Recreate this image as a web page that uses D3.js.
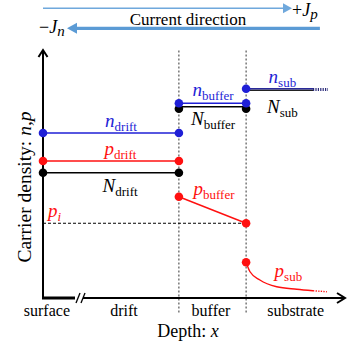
<!DOCTYPE html>
<html>
<head>
<meta charset="utf-8">
<script src="https://cdn.jsdelivr.net/npm/d3@7"></script>
<style>
  body { margin: 0; background: #fff; }
  svg text { font-family: "Liberation Serif", "Times New Roman", serif; }
</style>
</head>
<body>
<div id="chart"></div>
<script>
// regions along the depth axis
const regions = ["surface", "drift", "buffer", "substrate"];
const regionCenters = [0.13, 2.7, 5.6, 8.42];
// layer boundaries (depth units)
const boundaries = [4.53, 6.77];

// flat levels (arbitrary log units)
const nDrift = 6.6, pDrift = 5.48, NDrift = 5.01;
const nBuffer = 7.79, NBuffer = 7.65;
const nSub = 8.37, NSub = 8.31;
const pIntrinsic = 2.99;
const subEnd = 9.0, subFade = 9.5;

// p in buffer and substrate
const pBuffer = [[4.53, 4.05], [6.77, 2.99]];
const pSub = [[6.77, 1.43], [6.9, 1.05], [7.23, 0.72], [7.79, 0.45], [8.46, 0.35], [9.0, 0.29]];
const pSubFade = [[9.0, 0.29], [9.46, 0.25]];

const BLUE = "#1f1fd6", RED = "#ff1010", BLACK = "#000";

const dimensions = { width: 360, height: 345 };

const svg = d3.select("#chart").append("svg")
  .attr("width", dimensions.width)
  .attr("height", dimensions.height);

const x = d3.scaleLinear().domain([0, 10]).range([43, 343]);
const y = d3.scaleLinear().domain([0, 10]).range([298, 48]);

const line = d3.line().x(d => x(d[0])).y(d => y(d[1]));
const curve = d3.line().x(d => x(d[0])).y(d => y(d[1])).curve(d3.curveMonotoneX);

// ---- current direction arrows
const header = svg.append("g");
function arrow(x1, x2, yy, w, head, color) {
  const dir = Math.sign(x2 - x1);
  header.append("line")
    .attr("x1", x1).attr("x2", x2 - dir * head).attr("y1", yy).attr("y2", yy)
    .attr("stroke", color).attr("stroke-width", w);
  header.append("path")
    .attr("d", `M${x2},${yy} L${x2 - dir * head},${yy - head * 0.55} L${x2 - dir * head},${yy + head * 0.55}Z`)
    .attr("fill", color);
}
arrow(x(0), x(8.3), 8.3, 1.6, 9, "#6fa8dc");
arrow(x(9.23), x(0.8), 28.3, 3.2, 10, "#5b9bd5");

header.append("text").attr("x", 188).attr("y", 25).attr("text-anchor", "middle")
  .attr("font-size", 17).text("Current direction");

function label(g, px, py, main, sub, color, anchor, subItalic) {
  const t = g.append("text").attr("x", px).attr("y", py)
    .attr("text-anchor", anchor || "middle").attr("fill", color);
  t.append("tspan").attr("font-style", "italic").attr("font-size", 19).text(main);
  if (sub) t.append("tspan").attr("font-size", 13).attr("dy", 4)
    .attr("font-style", subItalic ? "italic" : "normal").text(sub);
  return t;
}
const tp = header.append("text").attr("x", 292).attr("y", 16).attr("font-size", 18);
tp.append("tspan").text("+");
tp.append("tspan").attr("font-style", "italic").text("J");
tp.append("tspan").attr("font-style", "italic").attr("font-size", 15).attr("dy", 3).text("p");
const tn = header.append("text").attr("x", 39).attr("y", 33).attr("font-size", 18);
tn.append("tspan").text("\u2212");
tn.append("tspan").attr("font-style", "italic").text("J");
tn.append("tspan").attr("font-style", "italic").attr("font-size", 15).attr("dy", 3).text("n");

// ---- boundaries
const bounds = svg.append("g");
bounds.selectAll(".bnd").data(boundaries).join("line")
  .attr("x1", d => x(d)).attr("x2", d => x(d))
  .attr("y1", y(9.9)).attr("y2", 314)
  .attr("stroke", "#333").attr("stroke-width", 1).attr("stroke-dasharray", "2,2");

// intrinsic level
bounds.append("line")
  .attr("x1", x(0)).attr("x2", x(boundaries[1]))
  .attr("y1", y(pIntrinsic)).attr("y2", y(pIntrinsic))
  .attr("stroke", "#000").attr("stroke-width", 1).attr("stroke-dasharray", "3,2");

// ---- axes
const axes = svg.append("g").attr("fill", "none").attr("stroke", "#000");
axes.append("line").attr("x1", x(0)).attr("x2", x(0)).attr("y1", 50).attr("y2", y(0) + 1).attr("stroke-width", 2);
axes.append("path").attr("d", `M${x(0) - 4.5},${57} L${x(0)},${50} L${x(0) + 4.5},${57}`).attr("stroke-width", 2);
axes.append("line").attr("x1", x(0) - 1).attr("x2", 75).attr("y1", y(0)).attr("y2", y(0)).attr("stroke-width", 3);
axes.append("line").attr("x1", 76).attr("x2", 80).attr("y1", y(0) + 5).attr("y2", y(0) - 5).attr("stroke-width", 1.3);
axes.append("line").attr("x1", 81).attr("x2", 85).attr("y1", y(0) + 5).attr("y2", y(0) - 5).attr("stroke-width", 1.3);
axes.append("line").attr("x1", 83).attr("x2", 344).attr("y1", y(0)).attr("y2", y(0)).attr("stroke-width", 1.8);
axes.append("path").attr("d", `M${337},${y(0) - 5} L${345},${y(0)} L${337},${y(0) + 5}`).attr("stroke-width", 2);

// ---- levels
const levels = svg.append("g").attr("fill", "none").attr("stroke-width", 1.6);
const flat = [
  { v: NDrift, a: 0, b: boundaries[0], c: BLACK },
  { v: pDrift, a: 0, b: boundaries[0], c: RED },
  { v: nDrift, a: 0, b: boundaries[0], c: BLUE },
  { v: NBuffer, a: boundaries[0], b: boundaries[1], c: BLACK },
  { v: nBuffer, a: boundaries[0], b: boundaries[1], c: BLUE },
  { v: NSub, a: boundaries[1], b: subEnd, c: "#222" },
  { v: nSub, a: boundaries[1], b: subEnd, c: "#2a2a9a" }
];
flat.forEach(f => {
  levels.append("path").attr("d", line([[f.a, f.v], [f.b, f.v]])).attr("stroke", f.c);
});
levels.append("path").attr("d", line([[subEnd, (nSub + NSub) / 2], [subFade, (nSub + NSub) / 2]]))
  .attr("stroke", "#2a2a7a").attr("stroke-width", 3).attr("stroke-dasharray", "1.2,1.2");

levels.append("path").attr("d", line(pBuffer)).attr("stroke", RED).attr("stroke-width", 1.4);
levels.append("path").attr("d", curve(pSub)).attr("stroke", RED).attr("stroke-width", 1.4);
levels.append("path").attr("d", line(pSubFade)).attr("stroke", RED).attr("stroke-width", 1.4)
  .attr("stroke-dasharray", "1.3,1.3");

// ---- dots
const dots = [
  [0, NDrift, BLACK], [boundaries[0], NDrift, BLACK],
  [0, pDrift, RED], [boundaries[0], pDrift, RED],
  [0, nDrift, BLUE], [boundaries[0], nDrift, BLUE],
  [boundaries[0], NBuffer - 0.08, BLACK], [boundaries[1], NBuffer - 0.08, BLACK],
  [boundaries[0], nBuffer, BLUE], [boundaries[1], nBuffer, BLUE],
  [boundaries[1], nSub, BLUE],
  [pBuffer[0][0], pBuffer[0][1], RED], [pBuffer[1][0], pBuffer[1][1], RED],
  [pSub[0][0], pSub[0][1], RED]
];
svg.append("g").selectAll("circle").data(dots).join("circle")
  .attr("cx", d => x(d[0])).attr("cy", d => y(d[1])).attr("r", 4.3).attr("fill", d => d[2]);

// ---- labels
const lab = svg.append("g");
label(lab, x(2.6), y(6.84), "n", "drift", BLUE);
label(lab, x(2.58), y(5.72), "p", "drift", RED);
label(lab, x(2.57), y(4.24), "N", "drift", BLACK);
label(lab, x(5.67), y(8.08), "n", "buffer", BLUE);
label(lab, x(5.67), y(6.92), "N", "buffer", BLACK);
label(lab, x(7.98), y(8.6), "n", "sub", BLUE);
label(lab, x(7.98), y(7.4), "N", "sub", BLACK);
label(lab, x(5.7), y(4.12), "p", "buffer", RED);
label(lab, x(0.17), y(3.24), "p", "i", RED, "start", true);
label(lab, x(8.18), y(0.84), "p", "sub", RED);

// region names
lab.selectAll(".reg").data(regions).join("text")
  .attr("x", (d, i) => x(regionCenters[i])).attr("y", 316)
  .attr("text-anchor", "middle").attr("font-size", 16).text(d => d);

// axis titles
const xt = lab.append("text").attr("x", 188).attr("y", 337).attr("text-anchor", "middle").attr("font-size", 18);
xt.append("tspan").text("Depth: ");
xt.append("tspan").attr("font-style", "italic").text("x");

const yt = lab.append("text").attr("transform", "translate(31,187) rotate(-90)")
  .attr("text-anchor", "middle").attr("font-size", 19.5);
yt.append("tspan").text("Carrier density: ");
yt.append("tspan").attr("font-style", "italic").text("n,p");
</script>
</body>
</html>
